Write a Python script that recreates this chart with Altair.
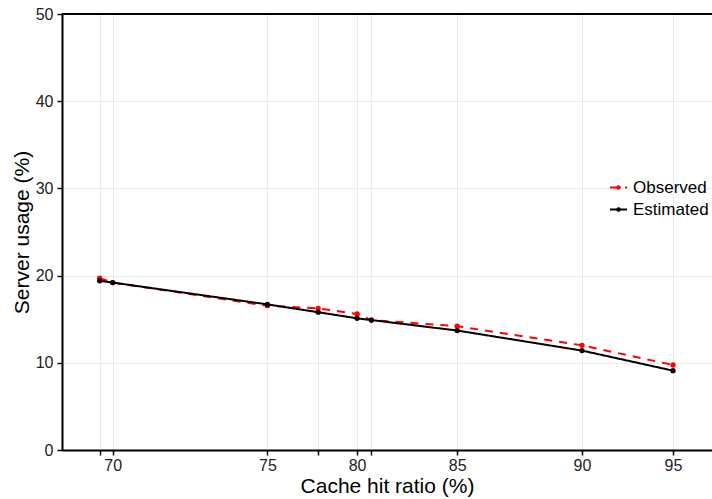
import altair as alt
import pandas as pd

# underlying x positions of the measurement points (axis labelled with cache hit ratio)
x_pos = [5.8, 7.8, 31.6, 39.4, 45.4, 47.6, 60.8, 80.0, 94.0]
tick_labels = ["", "70", "75", "", "80", "", "85", "90", "95"]
observed = [19.7, 19.2, 16.55, 16.25, 15.6, 14.9, 14.2, 12.0, 9.75]
estimated = [19.4, 19.2, 16.7, 15.8, 15.1, 14.9, 13.7, 11.4, 9.1]
series_names = ["Observed", "Estimated"]
series_colors = ["#ff0000", "#000000"]
y_ticks = [0, 10, 20, 30, 40, 50]

rows = []
for i, x in enumerate(x_pos):
    rows.append({"x": x, "usage": observed[i], "series": series_names[0]})
for i, x in enumerate(x_pos):
    rows.append({"x": x, "usage": estimated[i], "series": series_names[1]})
df = pd.DataFrame(rows)

# label expression mapping x positions to the cache-hit labels
expr = "''"
for v, lab in reversed(list(zip(x_pos, tick_labels))):
    expr = f"abs(datum.value - {v}) < 0.01 ? '{lab}' : ({expr})"

FONT = "Liberation Sans"

x_enc = alt.X(
    "x:Q",
    scale=alt.Scale(domain=[0, 100], nice=False, zero=False),
    axis=alt.Axis(
        values=x_pos, labelExpr=expr, labelOverlap=False, labelFlush=False,
        grid=True, gridColor="#ebebeb", gridWidth=1,
        domainColor="black", domainWidth=2,
        tickColor="black", tickSize=5, tickWidth=1.5,
        labelFont=FONT, labelFontSize=16, labelColor="#222222", labelPadding=2,
        title="Cache hit ratio (%)", titleFont=FONT, titleFontSize=21,
        titleFontWeight="normal", titleColor="black", titlePadding=2,
    ),
)
y_enc = alt.Y(
    "usage:Q",
    scale=alt.Scale(domain=[0, 50], nice=False),
    axis=alt.Axis(
        values=y_ticks, grid=True, gridColor="#ebebeb", gridWidth=1,
        domainColor="black", domainWidth=2,
        tickColor="black", tickSize=5, tickWidth=1.5,
        labelFont=FONT, labelFontSize=16, labelColor="#222222", labelPadding=4,
        title="Server usage (%)", titleFont=FONT, titleFontSize=21,
        titleFontWeight="normal", titleColor="black", titlePadding=3,
    ),
)
color_enc = alt.Color(
    "series:N",
    scale=alt.Scale(domain=series_names, range=series_colors),
    legend=alt.Legend(
        title=None, orient="none", legendX=547, legendY=164,
        symbolType="M-1,0L1,0M-0.15,0A0.15,0.15 0 1,0 0.15,0A0.15,0.15 0 1,0 -0.15,0",
        symbolSize=289, symbolStrokeWidth=2,
        labelFont=FONT, labelFontSize=17, labelColor="black",
        rowPadding=4, labelOffset=5,
    ),
)
dash_enc = alt.StrokeDash(
    "series:N",
    scale=alt.Scale(domain=series_names, range=[[8, 7], [1, 0]]),
    legend=None,
)

obs_layer = alt.Chart(df).transform_filter(alt.datum.series == "Observed").mark_line(
    strokeWidth=2, point=alt.OverlayMarkDef(filled=True, size=28, color="#ff0000")
).encode(x=x_enc, y=y_enc, color=color_enc, strokeDash=dash_enc)

est_layer = alt.Chart(df).transform_filter(alt.datum.series == "Estimated").mark_line(
    strokeWidth=2, point=alt.OverlayMarkDef(filled=True, size=28, color="#000000")
).encode(x=x_enc, y=y_enc, color=color_enc, strokeDash=dash_enc)

top_rule = alt.Chart(pd.DataFrame({"top": [50]})).mark_rule(
    color="black", strokeWidth=2
).encode(y=alt.Y("top:Q", scale=alt.Scale(domain=[0, 50], nice=False)))

chart = alt.layer(obs_layer, est_layer, top_rule).properties(
    width=650, height=436,
    autosize=alt.AutoSizeParams(type="none"),
    padding={"left": 62, "top": 14, "right": 0, "bottom": 49},
    background="white",
).configure_view(stroke=None)

chart.save("out.html", embed_options={"renderer": "svg", "actions": False})
